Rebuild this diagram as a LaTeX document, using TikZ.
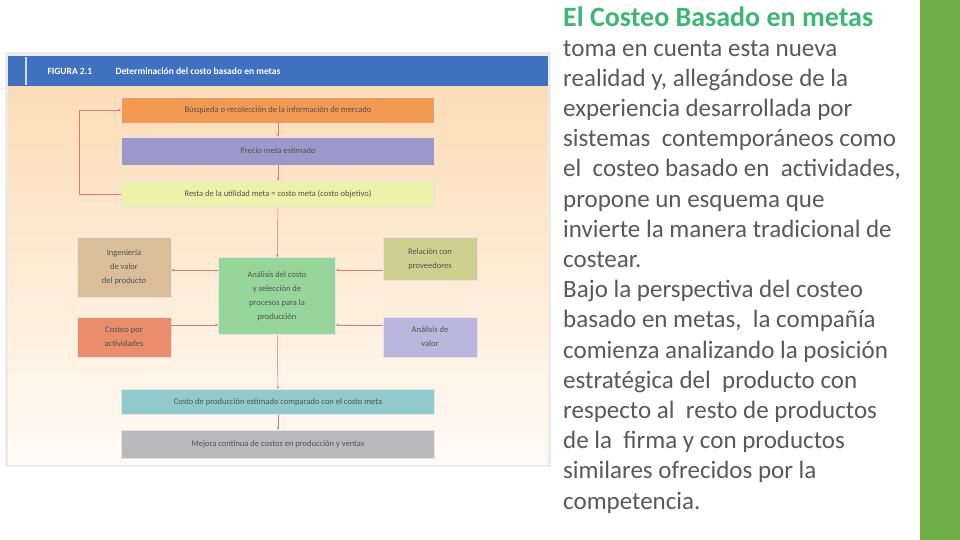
\documentclass[tikz,border=0pt]{standalone}
\usepackage{fontspec}
\setmainfont{Carlito}
\usetikzlibrary{arrows.meta,positioning,calc}
\definecolor{Ink}{HTML}{595959}
\definecolor{TitleGreen}{HTML}{3DB872}
\definecolor{BarGreen}{HTML}{70AD47}
\definecolor{HeadBlue}{HTML}{4070C0}
\definecolor{Peach}{HTML}{FCDCB6}
\definecolor{Cream}{HTML}{FFFBF6}
\definecolor{LinkRed}{HTML}{E07878}
\definecolor{BoxOrange}{HTML}{F29A52}
\definecolor{BoxPurple}{HTML}{9E97C9}
\definecolor{BoxYellow}{HTML}{EEF1AA}
\definecolor{BoxTan}{HTML}{D9BE99}
\definecolor{BoxSalmon}{HTML}{EA8D6C}
\definecolor{BoxGreen}{HTML}{97D69B}
\definecolor{BoxOlive}{HTML}{CFCF90}
\definecolor{BoxLavender}{HTML}{BAB6DE}
\definecolor{BoxTeal}{HTML}{90CACD}
\definecolor{BoxGray}{HTML}{B9B9BB}

\begin{document}
\begin{tikzpicture}[x=1pt,y=-1pt,>={Stealth[length=3pt,width=2.6pt]},
  boxtext/.style={font=\fontsize{8.5}{14}\selectfont,text=black!68,align=center,inner sep=1pt,draw=black!10,line width=0.6pt},
  stepbox/.style={boxtext,minimum width=313pt},
  sidebox/.style={boxtext,minimum width=94pt},
  link/.style={->,LinkRed,line width=0.5pt}]
\useasboundingbox (0,0) rectangle (960,540);
\fill[white] (0,0) rectangle (960,540);
\fill[BarGreen] (920,0) rectangle (960,540);
% figure panel
\fill[black!8] (5,52) rectangle (551,467);
\shade[top color=Peach,bottom color=Cream] (8,86) rectangle (548,464);
\fill[HeadBlue] (8,56) rectangle (548,86);
\draw[white!75!HeadBlue,line width=1.5pt] (26,57) -- (26,85);
\node[anchor=west,font=\fontsize{9.5}{11}\selectfont\bfseries,text=white] (fig) at (44,71) {FIGURA 2.1};
\node[anchor=west,font=\fontsize{9.5}{11}\selectfont\bfseries,text=white] (figtitle) at (112,71) {Determinación del costo basado en metas};
% steps
\node[stepbox,fill=BoxOrange,minimum height=26pt] (mercado) at (278,110) {Búsqueda o recolección de la información de mercado};
\node[stepbox,fill=BoxPurple,minimum height=28pt] (precio) at (278,151) {Precio meta estimado};
\node[stepbox,fill=BoxYellow,minimum height=26pt] (meta) at (278,194) {Resta de la utilidad meta = costo meta (costo objetivo)};
\node[boxtext,fill=BoxGreen,minimum width=117pt,minimum height=77pt] (analisis) at (277,296) {Análisis del costo\\y selección de\\procesos para la\\producción};
\node[sidebox,fill=BoxTan,minimum height=60pt] (ingenieria) at (124,267) {Ingeniería\\de valor\\del producto};
\node[sidebox,fill=BoxSalmon,minimum height=40pt] (actividades) at (124,337) {Costeo por\\actividades};
\node[sidebox,fill=BoxOlive,minimum height=43pt] (proveedores) at (430,259) {Relación con\\proveedores};
\node[sidebox,fill=BoxLavender,minimum height=40pt] (valor) at (430,337) {Análisis de\\valor};
\node[stepbox,fill=BoxTeal,minimum height=25pt] (estimado) at (278,402) {Costo de producción estimado comparado con el costo meta};
\node[stepbox,fill=BoxGray,minimum height=28pt] (mejora) at (278,444) {Mejora continua de costos en producción y ventas};
% connectors
\draw[link] (meta.west) -- ++(-42,0) |- (mercado.west);
\draw[link] (mercado) -- (precio);
\draw[link] (precio) -- (meta);
\draw[link] (meta) -- (analisis);
\path (ingenieria.east) ++(0,3) coordinate (ing);
\draw[link] (ing -| analisis.west) -- (ing);
\path (actividades.east) ++(0,-12) coordinate (act);
\draw[link] (act) -- (act -| analisis.west);
\path (proveedores.west) ++(0,11) coordinate (prov);
\draw[link] (prov) -- (prov -| analisis.east);
\path (valor.west) ++(0,-12) coordinate (val);
\draw[link] (val) -- (val -| analisis.east);
\draw[link] (analisis) -- (estimado);
\draw[link] (estimado) -- (mejora);
% right text
\node[anchor=north west,inner sep=0pt,align=left,text=Ink,font=\fontsize{25}{30.2}\selectfont] (texto) at (563,7)
  {\textcolor{TitleGreen}{\fontsize{28}{30.2}\selectfont\bfseries El Costeo Basado en metas}\\[-1pt]
   toma en cuenta esta nueva\\
   realidad y, allegándose de la\\
   experiencia desarrollada por\\
   sistemas\ \ contemporáneos como\\
   el\ \ costeo basado en\ \ actividades,\\
   propone un esquema que\\
   invierte la manera tradicional de\\
   costear.\\
   Bajo la perspectiva del costeo\\
   basado en metas,\ \ la compañía\\
   comienza analizando la posición\\
   estratégica del\ \ producto con\\
   respecto al\ \ resto de productos\\
   de la\ \ firma y con productos\\
   similares ofrecidos por la\\
   competencia.};
\end{tikzpicture}
\end{document}
